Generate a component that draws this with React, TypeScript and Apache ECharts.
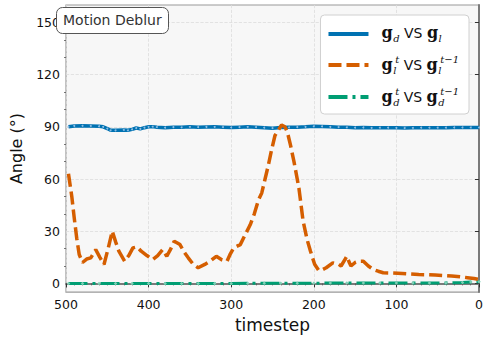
import React, { useEffect, useRef } from "react";
import * as echarts from "echarts";

// ---- data ----
const BLUE_T = [497, 490, 480, 470, 460, 455, 450, 446, 440, 430, 425, 420, 415, 410, 405, 400, 395, 390, 380, 370, 360, 350, 340, 330, 320, 310, 300, 290, 280, 270, 260, 250, 240, 230, 220, 210, 200, 190, 180, 170, 160, 150, 140, 130, 120, 110, 100, 90, 80, 70, 60, 50, 40, 30, 20, 10, 0];
const BLUE_V = [90, 90.5, 90.6, 90.5, 90.3, 90, 89, 88, 88, 88.2, 88, 88.5, 89.3, 88.8, 89.5, 90, 90.1, 89.8, 89.5, 89.8, 89.7, 90, 89.8, 89.9, 90, 89.8, 89.6, 89.8, 90, 89.8, 89.5, 89.2, 89.6, 89.7, 89.8, 90, 90.3, 90.2, 90, 89.8, 89.7, 89.5, 89.6, 89.4, 89.5, 89.5, 89.4, 89.3, 89.4, 89.5, 89.5, 89.5, 89.5, 89.6, 89.6, 89.6, 89.6];

const ORANGE_T = [497, 493, 490, 487, 484, 480, 475, 470, 464, 459, 454, 449, 444, 440, 436, 429, 424, 419, 414, 409, 402, 395, 389, 383, 378, 373, 369, 362, 357, 352, 346, 340, 332, 325, 318, 311, 305, 301, 297, 289, 283, 277, 272, 267, 263, 259, 255, 251, 247, 243, 239, 235, 232, 228, 224, 218, 213, 208, 204, 199, 194, 190, 185, 177, 170, 167, 162, 160, 157, 155, 150, 145, 140, 134, 128, 122, 116, 105, 93, 83, 73, 63, 53, 43, 33, 23, 14, 6, 0];
const ORANGE_V = [63, 50, 37.5, 26, 16.6, 12, 14, 14.7, 19.4, 15, 10.9, 20, 30, 24, 18.5, 12.8, 16, 20.4, 21, 18.5, 16, 13.7, 16, 19.4, 15.6, 20, 24.2, 22.3, 18, 14.7, 11, 9, 10.9, 13, 15.6, 13.5, 12.8, 17, 20.4, 22.3, 28, 33.7, 40, 48, 52, 60, 68, 77, 85, 88, 91, 90, 87, 79, 70, 54.7, 36, 25, 18.5, 11, 7.5, 7.8, 9, 11.8, 11, 10, 14, 15.6, 12, 10, 12, 12.8, 12.8, 10, 8, 7, 6.1, 6, 5.7, 5.4, 5.1, 5, 4.8, 4.5, 4.2, 3.8, 3.3, 2.8, 2.3];

const GREEN_T = [497, 480, 460, 440, 420, 400, 380, 360, 340, 320, 300, 280, 260, 240, 220, 200, 180, 160, 140, 120, 100, 80, 60, 40, 20, 10, 0];
const GREEN_V = [0, 0, 0, 0, 0, 0, 0, 0, 0, 0, 0, 0.1, 0.1, 0.1, 0.1, 0.1, 0.2, 0.2, 0.2, 0.2, 0.2, 0.3, 0.3, 0.3, 0.5, 0.8, 1];

const Y_TICKS = [0, 30, 60, 90, 120, 150];
const Y_MINOR = [10, 20, 40, 50, 70, 80, 100, 110, 130, 140];

const SERIES_NAMES = ["gd_gl", "gl_gl1", "gd_gd1"];
const LEGEND_TEXT: Record<string, string> = {
  gd_gl: "{gap|}{g|g}{sub|d}{vs| VS }{g|g}{sub|l}",
  gl_gl1: "{gap|}{g|g}{subs|l}{sup|t}{vs| VS }{g|g}{subs|l}{sup|t−1}",
  gd_gd1: "{gap|}{g|g}{subs|d}{sup|t}{vs| VS }{g|g}{subs|d}{sup|t−1}",
};

const zip = (t: number[], v: number[]) => t.map((x, i) => [x, v[i]]);

export default function App() {
  const ref = useRef<HTMLDivElement>(null);
  useEffect(() => {
    if (!ref.current) return;
    const chart = echarts.init(ref.current, undefined, { renderer: "svg" });
    const font = "DejaVu Sans";
    const serifBase = { fontFamily: "DejaVu Serif", color: "#111", verticalAlign: "bottom" as const };
    chart.setOption({
      animation: false,
      title: {
        text: "Motion Deblur",
        left: 56,
        top: 7,
        padding: [6, 7, 7, 7],
        backgroundColor: "#fff",
        borderColor: "#555",
        borderWidth: 1,
        borderRadius: 6,
        textStyle: { fontFamily: font, fontSize: 14, fontWeight: "normal", color: "#333" },
      },
      legend: {
        orient: "vertical",
        right: 19,
        top: 15,
        data: SERIES_NAMES,
        itemWidth: 40,
        itemHeight: 12,
        itemGap: 11,
        padding: [9, 10, 7, 6],
        backgroundColor: "#fff",
        borderColor: "#d0d0d0",
        borderWidth: 1,
        borderRadius: 4,
        itemStyle: { opacity: 0 },
        lineStyle: { width: 4 },
        formatter: (name: string) => LEGEND_TEXT[name],
        textStyle: {
          fontFamily: font,
          rich: {
            gap: { width: 8 },
            g: { ...serifBase, fontWeight: "bold", fontSize: 16, padding: [0, 0, 4, 0] },
            sub: { ...serifBase, fontStyle: "italic", fontSize: 10, padding: [0, 0, 1, 0.5] },
            subs: { ...serifBase, fontStyle: "italic", fontSize: 10, padding: [0, 0, 1, 0.5], width: 2 },
            sup: { ...serifBase, fontStyle: "italic", fontSize: 10, padding: [0, 0, 12, 0] },
            vs: { fontFamily: font, fontSize: 14, color: "#111", verticalAlign: "bottom", padding: [0, 0, 4, 0] },
          },
        },
      },
      grid: {
        left: 55,
        right: 9,
        top: 5,
        bottom: 44,
        show: true,
        backgroundColor: "#f7f7f7",
        borderColor: "#9a9a9a",
        borderWidth: 1.2,
      },
      xAxis: {
        type: "value",
        min: 0,
        max: 500,
        interval: 100,
        inverse: true,
        name: "timestep",
        nameLocation: "middle",
        nameGap: 22,
        nameTextStyle: { fontFamily: font, fontSize: 17, color: "#111" },
        axisLine: { lineStyle: { color: "#7a7a7a", width: 2 } },
        axisTick: { show: true, length: 4, lineStyle: { color: "#333", width: 1 } },
        minorTick: { show: true, splitNumber: 10, length: 2, lineStyle: { color: "#555", width: 0.8 } },
        axisLabel: { fontFamily: font, fontSize: 12.5, color: "#111", margin: 6 },
        splitLine: { show: true, lineStyle: { color: "#dcdcdc", type: "dashed", width: 0.8 } },
      },
      yAxis: [
        {
          type: "value",
          min: -5,
          max: 160,
          name: "Angle (°)",
          nameLocation: "middle",
          nameGap: 42,
          nameTextStyle: { fontFamily: font, fontSize: 16, color: "#111" },
          axisLine: { show: true, lineStyle: { color: "#7a7a7a", width: 2 } },
          axisTick: { show: true, length: 4, customValues: Y_TICKS, lineStyle: { color: "#333", width: 1 } },
          axisLabel: { fontFamily: font, fontSize: 12.5, color: "#111", margin: 6, customValues: Y_TICKS },
          splitLine: { show: true, lineStyle: { color: "#dcdcdc", type: "dashed", width: 0.8 } },
        },
        {
          type: "value",
          min: -5,
          max: 160,
          position: "left",
          axisLine: { show: false },
          axisTick: { show: true, length: 2, customValues: Y_MINOR, lineStyle: { color: "#555", width: 0.8 } },
          axisLabel: { show: false },
          splitLine: { show: false },
        },
      ],
      series: [
        {
          name: SERIES_NAMES[0],
          type: "line",
          data: zip(BLUE_T, BLUE_V),
          symbol: "circle",
          symbolSize: 2,
          showSymbol: true,
          itemStyle: { color: "#8cbce3" },
          lineStyle: { color: "#0072b2", width: 3.5 },
          z: 3,
        },
        {
          name: SERIES_NAMES[1],
          type: "line",
          data: zip(ORANGE_T, ORANGE_V),
          symbol: "none",
          itemStyle: { color: "#d55e00" },
          lineStyle: { color: "#d55e00", width: 3.5, type: [13, 5] },
          z: 4,
        },
        {
          name: SERIES_NAMES[2],
          type: "line",
          data: zip(GREEN_T, GREEN_V),
          symbol: "diamond",
          symbolSize: 3.5,
          showSymbol: true,
          itemStyle: { color: "#7fcfb5" },
          lineStyle: { color: "#009e73", width: 3, type: [19, 5, 3, 5] },
          z: 2,
        },
      ],
    });
    return () => chart.dispose();
  }, []);
  return <div ref={ref} style={{ position: "absolute", left: 0, top: 0, width: 488, height: 338 }} />;
}
